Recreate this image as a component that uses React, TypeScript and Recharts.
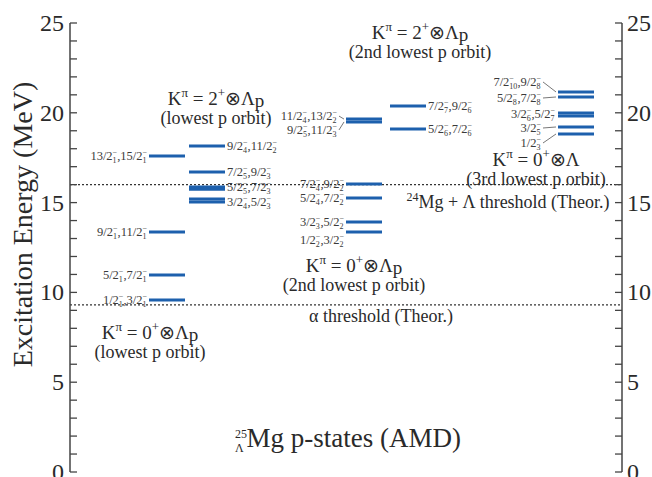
import React from 'react';
import { ComposedChart, Scatter, XAxis, YAxis, ReferenceLine, ReferenceDot, Label } from 'recharts';

const FONT = 'Liberation Serif, Times New Roman, serif';
const BLUE = '#1d60ad';
const INK = '#2a2a2a';

// energy axis (MeV)
const energyTicks = [0, 1, 2, 3, 4, 5, 6, 7, 8, 9, 10, 11, 12, 13, 14, 15, 16, 17, 18, 19, 20, 21, 22, 23, 24, 25];

// theoretical thresholds (MeV)
const alphaThreshold = 9.3;
const mgLambdaThreshold = 16.0;

// K=0+ (x) Lambda_p, lowest p orbit
const band1Energies = [9.58, 10.97, 13.36, 17.59];
const band1Labels = ['1/2_1,3/2_1', '5/2_1,7/2_1', '9/2_1,11/2_1', '13/2_1,15/2_1'];

// K=2+ (x) Lambda_p, lowest p orbit
const band2Energies = [15.03, 15.2, 15.74, 15.87, 16.7, 18.15];
const band2Labels = ['3/2_4,5/2_3', '', '', '5/2_5,7/2_3', '7/2_5,9/2_3', '9/2_4,11/2_2'];

// K=0+ (x) Lambda_p, 2nd lowest p orbit
const band3Energies = [13.36, 13.92, 15.26, 16.04];
const band3Labels = ['1/2_2,3/2_2', '3/2_3,5/2_2', '5/2_4,7/2_2', '7/2_4,9/2_2'];

// K=2+ (x) Lambda_p, 2nd lowest p orbit
const band4aEnergies = [19.49, 19.65];
const band4aLabels = ['9/2_5,11/2_3', '11/2_4,13/2_2'];
const band4bEnergies = [19.1, 20.38];
const band4bLabels = ['5/2_6,7/2_6', '7/2_7,9/2_6'];

// K=0+ (x) Lambda, 3rd lowest p orbit
const band5Energies = [18.82, 19.21, 19.82, 19.99, 20.88, 21.16];
const band5Labels = ['1/2_3', '3/2_5', '', '3/2_6,5/2_7', '5/2_8,7/2_8', '7/2_10,9/2_8'];

// ---- layout (px measured from the left axis) ----
const colX = [97, 137, 294, 338, 506];
const HALF = 18;

type LabelLayout = { nudge?: number; gap?: number; leader?: boolean };

function makePoints(energies: number[], labels: string[], x: number, side: 'left' | 'right', layout: LabelLayout[] = []) {
  return energies.map((e, i) => ({ x, y: e, label: labels[i], side, ...(layout[i] || {}) }));
}

const pts1 = makePoints(band1Energies, band1Labels, colX[0], 'left');
const pts2 = makePoints(band2Energies, band2Labels, colX[1], 'right');
const pts3 = makePoints(band3Energies, band3Labels, colX[2], 'left', [{ nudge: 8 }, {}, {}, {}]);
const pts4a = makePoints(band4aEnergies, band4aLabels, colX[2], 'left', [
  { nudge: 8, gap: 9, leader: true },
  { nudge: -3, gap: 9, leader: true },
]);
const pts4b = makePoints(band4bEnergies, band4bLabels, colX[3], 'right');
const pts5 = makePoints(band5Energies, band5Labels, colX[4], 'left', [
  { nudge: 9, gap: 17, leader: true },
  { nudge: 1, gap: 17, leader: true },
  {},
  { nudge: 1, gap: 3 },
  { nudge: 1, gap: 17, leader: true },
  { nudge: -10, gap: 17, leader: true },
]);

function StateLabel({ x, y, text, anchor }: { x: number; y: number; text: string; anchor: 'start' | 'end' }) {
  const kids: React.ReactNode[] = [];
  let back = 0;
  let extra = 0;
  text.split(',').forEach((part, i) => {
    const [j, n] = part.split('_');
    kids.push(
      <tspan key={'j' + i} dy={back} dx={extra}>
        {(i > 0 ? ',' : '') + j}
      </tspan>
    );
    const subW = 4 * n.length;
    kids.push(
      <tspan key={'n' + i} fontSize={8} dy={3}>
        {n}
      </tspan>
    );
    kids.push(
      <tspan key={'m' + i} fontSize={8} dx={-subW} dy={-8}>
        {'\u2212'}
      </tspan>
    );
    back = 5;
    extra = Math.max(0, subW - 4.5);
  });
  return (
    <text x={x} y={y + 4} textAnchor={anchor} fontSize={12.5} style={{ fontFamily: FONT }} fill="#3a3a3a">
      {kids}
    </text>
  );
}

const levelShape = (props: any) => {
  const { cx, cy, payload } = props;
  const { label, side, nudge = 0, gap = 2, leader } = payload;
  const left = cx - HALF;
  const right = cx + HALF;
  const ly = cy + nudge;
  return (
    <g>
      <line x1={left} x2={right} y1={cy} y2={cy} stroke={BLUE} strokeWidth={3} />
      {label && side === 'left' && <StateLabel x={left - gap} y={ly} text={label} anchor="end" />}
      {label && side === 'right' && <StateLabel x={right + gap} y={ly} text={label} anchor="start" />}
      {label && leader && (
        <line x1={left - gap + 2} y1={ly} x2={left - 2} y2={cy} stroke="#555" strokeWidth={0.8} />
      )}
    </g>
  );
};

const makeTick = (side: 'left' | 'right') => (props: any) => {
  const { x, y, payload } = props;
  const v = payload.value;
  const dir = side === 'left' ? 1 : -1;
  return (
    <g>
      <line x1={x} x2={x + dir * 7} y1={y} y2={y} stroke="#444" strokeWidth={1.3} />
      {v % 5 === 0 && (
        <text
          x={side === 'left' ? x - 6 : x + 5}
          y={y + 8}
          textAnchor={side === 'left' ? 'end' : 'start'}
          fontSize={24}
          style={{ fontFamily: FONT }}
          fill={INK}
        >
          {v}
        </text>
      )}
    </g>
  );
};

// two-line band headings: K^pi = J+ (x) Lambda_p / (orbit)
const heading = (k: string, withP: boolean, orbit: string) => (props: any) => {
  const { cx, cy } = props;
  return (
    <g style={{ fontFamily: FONT }} fill={INK}>
      <text x={cx} y={cy} textAnchor="middle" fontSize={19}>
        K<tspan fontSize={13} dy={-8}>π</tspan>
        <tspan dy={8}>{' = ' + k}</tspan>
        <tspan fontSize={13} dy={-8}>+</tspan>
        <tspan dy={8}>⊗Λ</tspan>
        {withP && <tspan dy={2}>p</tspan>}
      </text>
      <text x={cx} y={cy + 19} textAnchor="middle" fontSize={18}>
        {orbit}
      </text>
    </g>
  );
};

const mgThresholdText = (props: any) => (
  <text x={props.cx} y={props.cy} textAnchor="middle" fontSize={18} style={{ fontFamily: FONT }} fill={INK}>
    <tspan fontSize={12} dy={-7}>24</tspan>
    <tspan dy={7}>Mg + Λ threshold (Theor.)</tspan>
  </text>
);

const alphaThresholdText = (props: any) => (
  <text x={props.cx} y={props.cy} textAnchor="middle" fontSize={18} style={{ fontFamily: FONT }} fill={INK}>
    α threshold (Theor.)
  </text>
);

const titleText = (props: any) => (
  <text x={props.cx} y={props.cy} textAnchor="middle" fontSize={27} style={{ fontFamily: FONT }} fill={INK}>
    <tspan fontSize={12} dy={-9}>25</tspan>
    <tspan fontSize={12} dx={-12} dy={14}>Λ</tspan>
    <tspan dx={3} dy={-5}>Mg p-states (AMD)</tspan>
  </text>
);

const yTitle = (props: any) => {
  const { viewBox } = props;
  const x = viewBox.x + 24;
  const y = viewBox.y + viewBox.height / 2 - 23;
  return (
    <text x={x} y={y} transform={`rotate(-90 ${x} ${y})`} textAnchor="middle" fontSize={28} style={{ fontFamily: FONT }} fill={INK} dy={8}>
      Excitation Energy (MeV)
    </text>
  );
};

const series = [pts1, pts2, pts3, pts4a, pts4b, pts5];

export default function App() {
  return (
    <div style={{ position: 'absolute', left: 0, top: 0, background: '#fff' }}>
      <ComposedChart width={652} height={477} margin={{ top: 23, right: 0, bottom: 5, left: 0 }}>
        <XAxis type="number" dataKey="x" domain={[0, 552]} hide height={0} />
        <YAxis
          yAxisId="left"
          type="number"
          dataKey="y"
          domain={[0, 25]}
          ticks={energyTicks}
          interval={0}
          width={70}
          tickSize={0}
          tickMargin={0}
          tickLine={false}
          axisLine={{ stroke: '#444', strokeWidth: 1.5 }}
          tick={makeTick('left')}
        >
          <Label content={yTitle} />
        </YAxis>
        <YAxis
          yAxisId="right"
          orientation="right"
          type="number"
          dataKey="y"
          domain={[0, 25]}
          ticks={energyTicks}
          interval={0}
          width={30}
          tickSize={0}
          tickMargin={0}
          tickLine={false}
          axisLine={{ stroke: '#444', strokeWidth: 1.5 }}
          tick={makeTick('right')}
        />
        <ReferenceLine yAxisId="left" y={mgLambdaThreshold} stroke="#333" strokeWidth={1.2} strokeDasharray="2 2" />
        <ReferenceLine yAxisId="left" y={alphaThreshold} stroke="#333" strokeWidth={1.2} strokeDasharray="2 2" />
        {series.map((d, i) => (
          <Scatter key={i} yAxisId="left" data={d} shape={levelShape} isAnimationActive={false} />
        ))}
        <Scatter yAxisId="right" data={pts1} shape={() => <g />} isAnimationActive={false} />
        <ReferenceDot yAxisId="left" x={146} y={20.43} r={0} shape={heading('2', true, '(lowest p orbit)')} />
        <ReferenceDot yAxisId="left" x={350} y={24.1} r={0} shape={heading('2', true, '(2nd lowest p orbit)')} />
        <ReferenceDot yAxisId="left" x={80} y={7.42} r={0} shape={heading('0', true, '(lowest p orbit)')} />
        <ReferenceDot yAxisId="left" x={284} y={11.15} r={0} shape={heading('0', true, '(2nd lowest p orbit)')} />
        <ReferenceDot yAxisId="left" x={466} y={17.05} r={0} shape={heading('0', false, '(3rd lowest p orbit)')} />
        <ReferenceDot yAxisId="left" x={438} y={14.7} r={0} shape={mgThresholdText} />
        <ReferenceDot yAxisId="left" x={311} y={8.35} r={0} shape={alphaThresholdText} />
        <ReferenceDot yAxisId="left" x={278} y={1.4} r={0} shape={titleText} />
      </ComposedChart>
    </div>
  );
}
